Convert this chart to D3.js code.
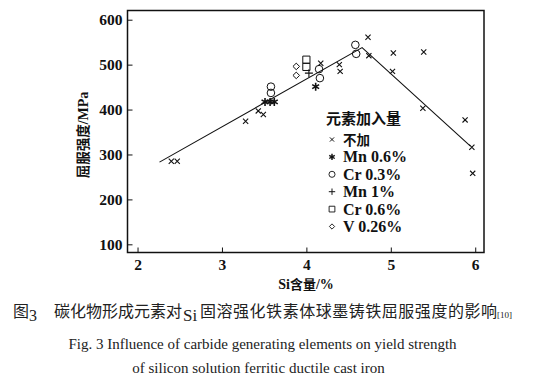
<!DOCTYPE html>
<html><head><meta charset="utf-8">
<script src="https://cdn.jsdelivr.net/npm/d3@7"></script>
<style>
html,body{margin:0;padding:0;background:#fff;}
svg{display:block;}
</style></head>
<body>
<svg id="c" width="558" height="392"></svg>
<script>
// ---- data ----
const xTicks = [2, 3, 4, 5, 6];
const yTicks = [100, 200, 300, 400, 500, 600];
const seriesNames = ["不加", "Mn 0.6%", "Cr 0.3%", "Mn 1%", "Cr 0.6%", "V 0.26%"];
const seriesSymbols = ["cross", "asterisk", "circle", "plus", "square", "diamond"];

const noneX = [2.40, 2.47, 3.28, 3.43, 3.49, 4.17, 4.39, 4.40, 4.73, 4.74, 5.02, 5.03, 5.39, 5.38, 5.88, 5.96, 5.97];
const noneY = [285, 285, 374, 397, 389, 503, 500, 485, 561, 520, 485, 526, 528, 403, 377, 316, 258];
const mn06X = [3.51, 3.57, 3.62, 4.11];
const mn06Y = [417, 417, 417, 451];
const cr03X = [3.58, 3.58, 4.15, 4.16, 4.58, 4.59];
const cr03Y = [451, 437, 490, 470, 544, 524];
const mn1X = [4.03];
const mn1Y = [481];
const cr06X = [4.00, 4.00];
const cr06Y = [511, 495];
const v026X = [3.88, 3.88];
const v026Y = [496, 476];
const fitX = [2.26, 4.66, 5.94];
const fitY = [283, 538, 319];

const seriesX = [noneX, mn06X, cr03X, mn1X, cr06X, v026X];
const seriesY = [noneY, mn06Y, cr03Y, mn1Y, cr06Y, v026Y];

// ---- layout ----
const svg = d3.select("#c");
const L = 127.5, R = 484, T = 10.5, B = 252.5;
const x = d3.scaleLinear().domain([1.881, 6.104]).range([L, R]);
const y = d3.scaleLinear().domain([81.8, 620.5]).range([B, T]);
const serif = "Liberation Serif";
const cjk = "Noto Sans CJK SC";

function symbolPath(type, s) {
  const p = d3.path();
  if (type === "cross") {
    p.moveTo(-s, -s); p.lineTo(s, s); p.moveTo(-s, s); p.lineTo(s, -s);
  } else if (type === "plus") {
    p.moveTo(-s, 0); p.lineTo(s, 0); p.moveTo(0, -s); p.lineTo(0, s);
  } else if (type === "asterisk") {
    for (let k = 0; k < 3; k++) {
      const a = Math.PI / 2 + k * Math.PI / 3;
      p.moveTo(-s * Math.cos(a), -s * Math.sin(a)); p.lineTo(s * Math.cos(a), s * Math.sin(a));
    }
  } else if (type === "square") {
    p.rect(-s, -s, 2 * s, 2 * s);
  } else if (type === "diamond") {
    p.moveTo(0, -s); p.lineTo(s, 0); p.lineTo(0, s); p.lineTo(-s, 0); p.closePath();
  } else if (type === "circle") {
    p.arc(0, 0, s, 0, 2 * Math.PI);
  }
  return p.toString();
}
const symSize = {cross: 2.6, plus: 4, asterisk: 4, square: 3.6, diamond: 3.3, circle: 3.8};
const symWidth = {cross: 1.1, plus: 1.1, asterisk: 1.6, square: 1, diamond: 1, circle: 1};

// frame
svg.append("rect").attr("x", L).attr("y", T).attr("width", R - L).attr("height", B - T)
  .attr("fill", "none").attr("stroke", "#111").attr("stroke-width", 1.5);

// axes with inward ticks
const gx = svg.append("g").attr("transform", `translate(0,${B})`)
  .call(d3.axisBottom(x).tickValues(xTicks).tickFormat(d3.format("d")).tickSizeInner(-5).tickSizeOuter(0).tickPadding(6));
const gy = svg.append("g").attr("transform", `translate(${L},0)`)
  .call(d3.axisLeft(y).tickValues(yTicks).tickFormat(d3.format("d")).tickSizeInner(-5).tickSizeOuter(0).tickPadding(5));
[gx, gy].forEach(g => {
  g.attr("font-family", null).attr("font-size", null);
  g.select(".domain").remove();
  g.selectAll("line").attr("stroke", "#111").attr("stroke-width", 1);
  g.selectAll("text").style("font-family", serif).style("font-weight", "bold")
    .style("font-size", "15.5px").attr("fill", "#111");
});

// fit line
svg.append("path")
  .datum(fitX.map((v, i) => [v, fitY[i]]))
  .attr("d", d3.line().x(d => x(d[0])).y(d => y(d[1])))
  .attr("fill", "none").attr("stroke", "#111").attr("stroke-width", 1.1);

// points
seriesX.forEach((xs, si) => {
  const type = seriesSymbols[si];
  svg.append("g").selectAll("path").data(xs.map((v, i) => [v, seriesY[si][i]])).join("path")
    .attr("transform", d => `translate(${x(d[0])},${y(d[1])})`)
    .attr("d", symbolPath(type, symSize[type]))
    .attr("fill", "none").attr("stroke", "#111").attr("stroke-width", symWidth[type]);
});

// legend
const lg = svg.append("g");
lg.append("text").attr("x", 326).attr("y", 124).text("元素加入量")
  .style("font-family", cjk).style("font-weight", "bold").style("font-size", "15px").attr("fill", "#111");
seriesNames.forEach((n, i) => {
  const cy = 139.5 + i * 17.4;
  const type = seriesSymbols[i];
  lg.append("path").attr("transform", `translate(332,${cy})`)
    .attr("d", symbolPath(type, symSize[type] * 0.8))
    .attr("fill", "none").attr("stroke", "#111").attr("stroke-width", symWidth[type] * 0.9);
  const isCjk = /[\u4e00-\u9fff]/.test(n);
  lg.append("text").attr("x", 343).attr("y", cy + 5.5).text(n)
    .style("font-family", isCjk ? cjk : serif).style("font-weight", "bold")
    .style("font-size", isCjk ? "13.5px" : "16px").attr("fill", "#111");
});

// axis titles
svg.append("text").attr("x", 306).attr("y", 288.5).attr("text-anchor", "middle")
  .attr("fill", "#111")
  .call(t => {
    t.append("tspan").style("font-family", serif).style("font-weight", "bold").style("font-size", "14px").text("Si");
    t.append("tspan").style("font-family", cjk).style("font-weight", "bold").style("font-size", "13px").text("含量");
    t.append("tspan").style("font-family", serif).style("font-weight", "bold").style("font-size", "14px").text("/%");
  });
svg.append("text").attr("transform", "translate(88,135) rotate(-90)").attr("text-anchor", "middle")
  .attr("fill", "#111")
  .call(t => {
    t.append("tspan").style("font-family", cjk).style("font-weight", "bold").style("font-size", "13.5px").text("屈服强度");
    t.append("tspan").style("font-family", serif).style("font-weight", "bold").style("font-size", "14px").text("/MPa");
  });

// captions
const c1 = svg.append("text").attr("y", 317).attr("fill", "#222").style("font-family", cjk).style("font-size", "16px");
c1.append("tspan").attr("x", 13).text("图");
c1.append("tspan").attr("dy", 4).style("font-family", serif).style("font-size", "16px").text("3");
c1.append("tspan").attr("x", 54).attr("dy", -4).text("碳化物形成元素对");
c1.append("tspan").attr("x", 183).attr("dy", 4).style("font-family", serif).style("font-size", "17px").text("Si");
c1.append("tspan").attr("x", 200).attr("dy", -4).attr("textLength", 297).text("固溶强化铁素体球墨铸铁屈服强度的影响");
c1.append("tspan").attr("x", 497).attr("dy", 1).style("font-family", serif).style("font-size", "9px").text("[10]");

svg.append("text").attr("x", 262.5).attr("y", 349).attr("text-anchor", "middle")
  .style("font-family", serif).style("font-size", "15px").attr("fill", "#222")
  .text("Fig. 3 Influence of carbide generating elements on yield strength");
svg.append("text").attr("x", 258.5).attr("y", 373).attr("text-anchor", "middle")
  .style("font-family", serif).style("font-size", "15px").attr("fill", "#222")
  .text("of silicon solution ferritic ductile cast iron");
</script>
</body></html>
